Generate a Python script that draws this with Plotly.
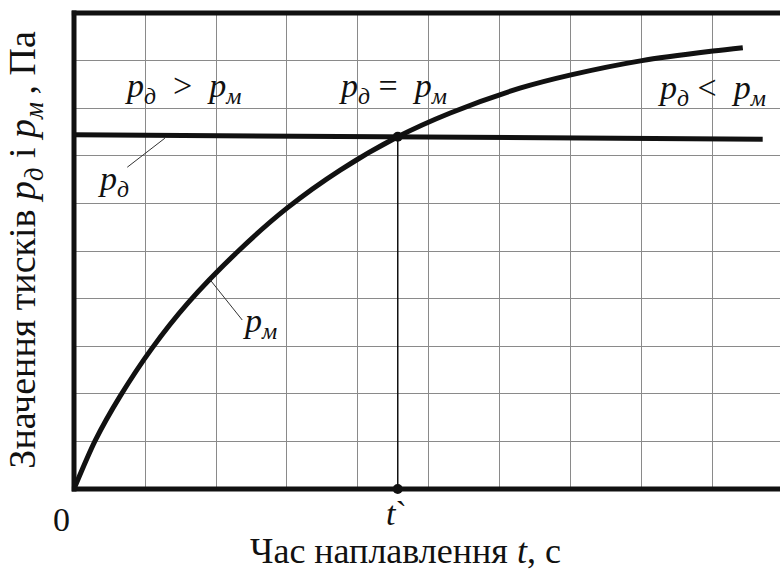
import plotly.graph_objects as go

# Welding time (grid units) and the melt pressure curve
t_m = [0, 0.3, 0.65, 1.1, 1.6, 2.3, 3.0, 3.75, 4.56, 5.3, 6.28, 7.0, 8.0, 9.0, 9.42]
p_m = [0, 1.02, 1.95, 2.96, 3.90, 4.98, 5.90, 6.70, 7.40, 7.90, 8.42, 8.70, 9.00, 9.20, 9.27]

# arc pressure (nearly constant)
t_d = [0, 9.70]
p_d = [7.44, 7.35]

# crossing point t`
t_cross = 4.56
p_cross = 7.40

x_max = 9.944
y_max = 10

SERIF = "Liberation Serif"
PD = "<i>p</i><sub><i>д</i></sub>"
PM = "<i>p</i><sub><i>м</i></sub>"
SP = "&nbsp;"

fig = go.Figure()

fig.add_trace(go.Scatter(x=t_m, y=p_m, mode="lines",
                         line=dict(color="#111", width=5, shape="spline", smoothing=0.8),
                         hoverinfo="skip"))
fig.add_trace(go.Scatter(x=t_d, y=p_d, mode="lines",
                         line=dict(color="#111", width=5), hoverinfo="skip"))
fig.add_trace(go.Scatter(x=[t_cross, t_cross], y=[0, p_cross], mode="lines+markers",
                         line=dict(color="#111", width=1.5),
                         marker=dict(size=10, color="#111"),
                         cliponaxis=False, hoverinfo="skip"))

# leader lines for the curve labels
fig.add_trace(go.Scatter(x=[1.28, 0.75], y=[7.37, 6.76], mode="lines",
                         line=dict(color="#333", width=1), hoverinfo="skip"))
fig.add_trace(go.Scatter(x=[1.92, 2.37], y=[4.39, 3.55], mode="lines",
                         line=dict(color="#333", width=1), hoverinfo="skip"))

big = dict(family=SERIF, size=34, color="#111")
title_font = dict(family=SERIF, size=36, color="#111")
ytitle_font = dict(family=SERIF, size=38, color="#111")

# labels inside the plot area (data coordinates)
inner = [
    dict(x=1.54, y=8.42, text=PD + SP * 2 + "&gt;" + SP * 2 + PM),
    dict(x=4.49, y=8.42, text=PD + SP + "=" + SP * 2 + PM),
    dict(x=8.99, y=8.38, text=PD + SP + "&lt;" + SP * 2 + PM),
    dict(x=0.56, y=6.48, text=PD),
    dict(x=2.62, y=3.48, text=PM),
]
for a in inner:
    fig.add_annotation(xref="x", yref="y", showarrow=False, font=big,
                       xanchor="center", yanchor="middle", **a)

# axis labels outside the plot area
fig.add_annotation(xref="paper", yref="paper", x=-0.017, y=-0.065, text="0",
                   showarrow=False, font=big, xanchor="center", yanchor="middle")
fig.add_annotation(xref="x", yref="paper", x=t_cross - 0.02, y=-0.052, text="<i>t</i>`",
                   showarrow=False, font=big, xanchor="center", yanchor="middle")
fig.add_annotation(xref="paper", yref="paper", x=0.469, y=-0.130,
                   text="Час наплавлення <i>t</i>, с",
                   showarrow=False, font=title_font, xanchor="center", yanchor="middle")
fig.add_annotation(xref="paper", yref="paper", x=-0.07, y=0.502,
                   text="Значення тисків " + PD + " і " + PM + "\u2009, Па", textangle=-90,
                   showarrow=False, font=ytitle_font, xanchor="center", yanchor="middle")

# heavy frame: left, top and bottom edges
frame = dict(color="#111", width=5)
fig.add_shape(type="line", xref="paper", yref="paper", x0=0, x1=0, y0=-0.005, y1=1.005, line=frame, layer="above")
fig.add_shape(type="line", xref="paper", yref="paper", x0=-0.003, x1=1, y0=1, y1=1, line=frame, layer="above")
fig.add_shape(type="line", xref="paper", yref="paper", x0=-0.003, x1=1, y0=0, y1=0, line=frame, layer="above")

fig.update_xaxes(range=[0, x_max], dtick=1, tick0=0, showticklabels=False, ticks="",
                 showgrid=True, gridcolor="#8a8a8a", gridwidth=1, zeroline=False, showline=False)
fig.update_yaxes(range=[0, y_max], dtick=1, tick0=0, showticklabels=False, ticks="",
                 showgrid=True, gridcolor="#8a8a8a", gridwidth=1, zeroline=False, showline=False)

fig.update_layout(width=780, height=571, showlegend=False,
                  margin=dict(l=74, r=0, t=13, b=82),
                  paper_bgcolor="white", plot_bgcolor="white")

fig.write_html("out.html")
